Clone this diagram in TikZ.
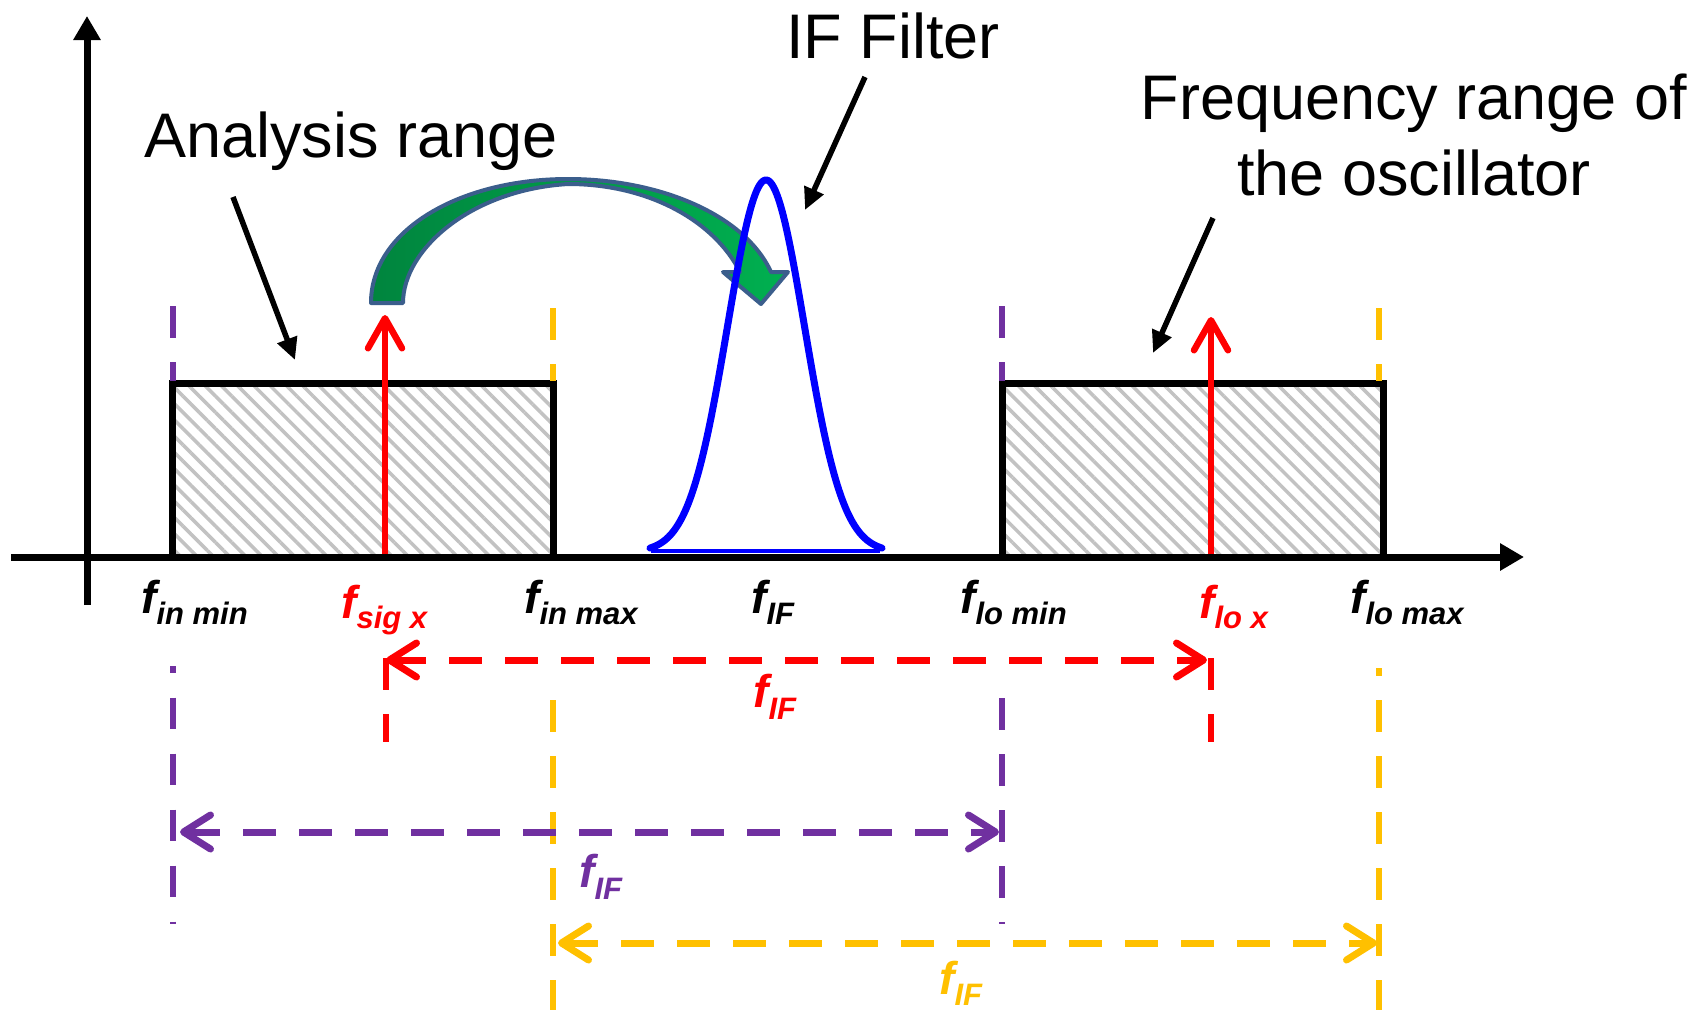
\documentclass[tikz,border=0pt]{standalone}
\usepackage{fontspec}
\setmainfont{Liberation Sans}
\usetikzlibrary{arrows.meta,patterns.meta}
\definecolor{myred}{RGB}{255,0,0}
\definecolor{myblue}{RGB}{0,0,255}
\definecolor{mypurple}{HTML}{7030A0}
\definecolor{myyellow}{HTML}{FFC000}
\definecolor{gdark}{HTML}{00853E}
\definecolor{glight}{HTML}{00B050}
\definecolor{gedge}{HTML}{3B5E8C}
\definecolor{hatchgray}{HTML}{C2C2C2}
\newcommand\fsublabel[2]{{\fontsize{46}{46}\selectfont f}\raisebox{-#2pt}{\fontsize{31}{31}\selectfont #1}}
\begin{document}
\begin{tikzpicture}[x=1pt,y=-1pt,
  axisline/.style={line width=7pt,-{Triangle[length=24pt,width=26pt]}},
  pointer/.style={line width=5.5pt,-{Triangle[length=22pt,width=20pt]}},
  sigarrow/.style={myred,line width=6.5pt,-{Straight Barb[length=30pt,width=34pt,round]}},
  vdash/.style={line width=5.5pt,dash pattern=on 31.5pt off 24.5pt},
  hdash/.style={line width=7pt,dash pattern=on 33pt off 23pt,
     {Straight Barb[length=27pt,width=34pt,round]}-{Straight Barb[length=27pt,width=34pt,round]}},
  rangebox/.style={draw=black,line width=7pt,pattern={Lines[angle=-45,distance=11.5pt,line width=3.5pt]},pattern color=hatchgray},
  bigtext/.style={inner sep=0pt,font=\fontsize{63}{76}\selectfont},
  flab/.style={inner sep=0pt,anchor=base west,font=\bfseries\itshape}
]
\useasboundingbox[fill=white] (0,0) rectangle (1708,1010);

% range boxes
\path[rangebox] (172,383) rectangle (553,557);
\path[rangebox] (1002,383) rectangle (1383,557);

% dashed markers above the boxes
\draw[vdash,mypurple] (173,306) -- (173,381);
\draw[vdash,myyellow] (553,308) -- (553,381);
\draw[vdash,mypurple] (1002,306) -- (1002,381);
\draw[vdash,myyellow] (1379,308) -- (1379,381);

% dashed markers below the axis
\draw[vdash,mypurple,dash phase=24.5pt] (173,666) -- (173,924);
\draw[vdash,mypurple] (1002,698) -- (1002,924);
\draw[vdash,myyellow] (553,700) -- (553,1010);
\draw[vdash,myyellow,dash phase=24pt] (1379,668) -- (1379,1010);
\draw[vdash,myred] (386,658) -- (386,742);
\draw[vdash,myred] (1211,658) -- (1211,742);

% signal arrows
\coordinate (s1b) at (385,557); \coordinate (s1t) at (385,315);
\coordinate (s2b) at (1211,557); \coordinate (s2t) at (1211,317);
\draw[sigarrow] (s1b) -- (s1t);
\draw[sigarrow] (s2b) -- (s2t);

% green curved arrow
\path[draw=gedge,line width=4pt,line join=round,left color=gdark,right color=glight]
  (371,303) .. controls (371,230) and (460,179) .. (568,179)
  .. controls (660,179) and (745,215) .. (771,272)
  -- (788,272) -- (761,304) -- (723,272) -- (740,272)
  .. controls (715,222) and (650,184) .. (568,184)
  .. controls (470,190) and (403,250) .. (403,303) -- cycle;

% IF filter curve
\draw[myblue,line width=3.5pt] (651,551) -- (880,551);
\draw[myblue,line width=7pt,line join=round,line cap=round]
  plot[domain=-116:116,samples=140] ({766+\x},{552-372*exp(-(\x*\x)/2964.5)});

% axes
\coordinate (xa0) at (11,557); \coordinate (xa1) at (1524,557);
\coordinate (ya0) at (87,605); \coordinate (ya1) at (87,16);
\draw[axisline] (xa0) -- (xa1);
\draw[axisline] (ya0) -- (ya1);

% f_IF double arrows
\coordinate (r0) at (386,660); \coordinate (r1) at (1207,660);
\coordinate (p0) at (180,832); \coordinate (p1) at (999,832);
\coordinate (y0) at (558,943); \coordinate (y1) at (1377,943);
\draw[hdash,myred] (r0) -- (r1);
\draw[hdash,mypurple] (p0) -- (p1);
\draw[hdash,myyellow] (y0) -- (y1);

% axis labels
\node[flab] (finmin) at (141,613) {\fsublabel{in min}{11}};
\node[flab,myred] (fsig) at (341,618) {\fsublabel{sig x}{10}};
\node[flab] (finmax) at (524,613) {\fsublabel{in max}{11}};
\node[flab] (fif) at (751,613) {\fsublabel{IF}{11}};
\node[flab] (flomin) at (960,613) {\fsublabel{lo min}{11}};
\node[flab,myred] (flox) at (1199,618) {\fsublabel{lo x}{10}};
\node[flab] (flomax) at (1350,613) {\fsublabel{lo max}{11}};

\node[flab,myred] (fifr) at (753,707) {\fsublabel{IF}{12}};
\node[flab,mypurple] (fifp) at (579,887) {\fsublabel{IF}{12}};
\node[flab,myyellow] (fify) at (939,994) {\fsublabel{IF}{11}};

% titles
\node[bigtext,anchor=base west] (ar) at (144,157) {Analysis range};
\node[bigtext,anchor=base west] (iff) at (786,58) {IF Filter};
\node[bigtext,anchor=base] (fr1) at (1414,119) {Frequency range of};
\node[bigtext,anchor=base] (fr2) at (1414,195) {the oscillator};

% pointers
\coordinate (a1s) at (233,197); \coordinate (a1e) at (295,360);
\coordinate (a2s) at (865,77); \coordinate (a2e) at (805,210);
\coordinate (a3s) at (1213,218); \coordinate (a3e) at (1153,353);
\draw[pointer] (a1s) -- (a1e);
\draw[pointer] (a2s) -- (a2e);
\draw[pointer] (a3s) -- (a3e);
\end{tikzpicture}
\end{document}
